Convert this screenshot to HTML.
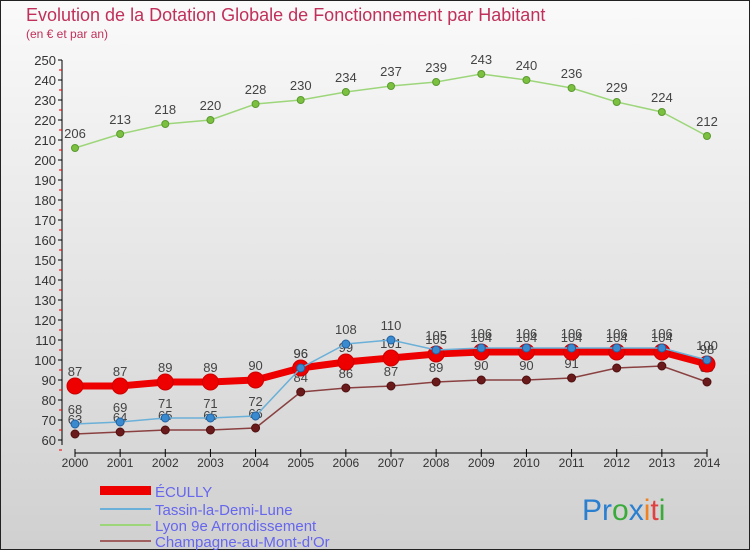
<!DOCTYPE html>
<html><head><meta charset="utf-8"><style>
body{margin:0;width:750px;height:550px;overflow:hidden;font-family:"Liberation Sans",sans-serif}
</style></head><body>
<svg width="750" height="550" xmlns="http://www.w3.org/2000/svg">
<defs><linearGradient id="bg" x1="0" y1="0" x2="0" y2="1"><stop offset="0" stop-color="#fafafa"/><stop offset="1" stop-color="#d0d0d0"/></linearGradient></defs>
<rect x="0.5" y="0.5" width="749" height="549" fill="url(#bg)" stroke="#222"/>
<text x="26" y="21" font-size="18" fill="#c0305a">Evolution de la Dotation Globale de Fonctionnement par Habitant</text>
<text x="26" y="38" font-size="12" fill="#c0305a">(en € et par an)</text>
<g id="axes"></g>
<g id="series"></g>
<g>
<rect x="100" y="486" width="51" height="9" fill="#e00"/>
<text x="155" y="497" font-size="15" fill="#6666ee">ÉCULLY</text>
<rect x="100" y="508" width="51" height="2" fill="#6ab0d8"/>
<text x="155" y="515" font-size="15" fill="#6666ee">Tassin-la-Demi-Lune</text>
<rect x="100" y="524" width="51" height="2" fill="#9dd67a"/>
<text x="155" y="531" font-size="15" fill="#6666ee">Lyon 9e  Arrondissement</text>
<rect x="100" y="540" width="51" height="2" fill="#a06060"/>
<text x="155" y="547" font-size="15" fill="#6666ee">Champagne-au-Mont-d'Or</text>
</g>
<text x="582" y="520" font-size="30"><tspan fill="#2a7fd0">Pr</tspan><tspan fill="#3aaa3a">o</tspan><tspan fill="#2a7fd0">x</tspan><tspan fill="#f08020">i</tspan><tspan fill="#e04040">t</tspan><tspan fill="#3aaa3a">i</tspan></text>
</svg>
<script>
const years=[2000,2001,2002,2003,2004,2005,2006,2007,2008,2009,2010,2011,2012,2013,2014];
const ecully=[87,87,89,89,90,96,99,101,103,104,104,104,104,104,98];
const tassin=[68,69,71,71,72,96,108,110,105,106,106,106,106,106,100];
const lyon=[206,213,218,220,228,230,234,237,239,243,240,236,229,224,212];
const champagne=[63,64,65,65,66,84,86,87,89,90,90,91,96,97,89];
const yTicks=[60,70,80,90,100,110,120,130,140,150,160,170,180,190,200,210,220,230,240,250];
const NS="http://www.w3.org/2000/svg";
const X=i=>75+i*(707-75)/14, Y=v=>440-(v-60)*2;
function mk(t,a,p){const e=document.createElementNS(NS,t);for(const k in a)e.setAttribute(k,a[k]);p.appendChild(e);return e;}
const ax=document.getElementById('axes');
const yl=mk('line',{x1:62,y1:60,x2:62,y2:445,stroke:'#000'},ax);


yTicks.forEach(v=>{
 mk('line',{x1:58,x2:62,y1:Y(v),y2:Y(v),stroke:'#000'},ax);
 mk('line',{x1:59,x2:62,y1:Y(v)+10,y2:Y(v)+10,stroke:'#e00'},ax);
 const t=mk('text',{x:56,y:Y(v)+5,'font-size':13,fill:'#333','text-anchor':'end'},ax);t.textContent=v;
 
 
});
const xl=mk('line',{x1:75,y1:453,x2:707,y2:453,stroke:'#000'},ax);


years.forEach((y,i)=>{
 mk('line',{x1:X(i),x2:X(i),y1:449,y2:457,stroke:'#000'},ax);
 const t=mk('text',{x:X(i),y:467,'font-size':12,fill:'#333','text-anchor':'middle'},ax);t.textContent=y;
 
 
});
const sg=document.getElementById('series');
function series(d,name,col,w,r,pc,lc){
 const g=mk('g',{},sg);
 
 
 const p=mk('polyline',{points:d.map((v,i)=>X(i)+','+Y(v)).join(' '),fill:'none',stroke:col,'stroke-width':w},g);
 
 
 d.forEach((v,i)=>{
  const c=mk('circle',{cx:X(i),cy:Y(v),r:r,fill:pc,stroke:lc,'stroke-width':1},g);
  
  
  const t=mk('text',{x:X(i),y:Y(v)-10,'font-size':13,fill:'#444','text-anchor':'middle'},g);t.textContent=v;
  
  
 });
}
series(lyon,'lyon','#9dd67a',1.5,3.5,'#7cc040','#5a9a30');
series(champagne,'champagne','#8a4040',1.5,4,'#6a1a1a','#501010');
series(ecully,'ecully','#ee0000',7,8,'#ee0000','#c00');
series(tassin,'tassin','#6ab0d8',1.5,4,'#3a8ad0','#2060a0');
</script>
</body></html>
